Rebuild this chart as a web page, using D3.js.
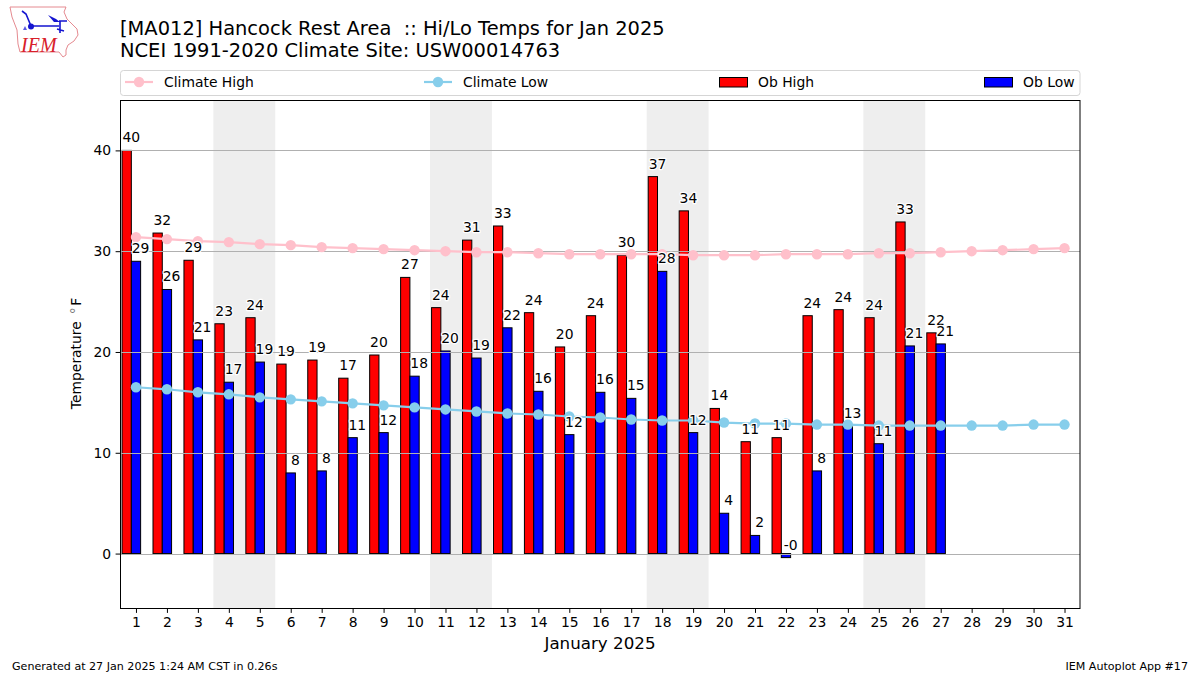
<!DOCTYPE html>
<html><head><meta charset="utf-8">
<script src="https://cdn.jsdelivr.net/npm/d3@7"></script>
<style>
html,body{margin:0;padding:0;background:#fff}
svg{display:block}
text{font-family:"DejaVu Sans",sans-serif;fill:#000}
</style></head><body><svg id="c" width="1200" height="675"></svg>
<script>
const days=d3.range(1,32);
const obHigh=[40,31.8,29.1,22.8,23.4,18.8,19.2,17.4,19.7,27.4,24.4,31.1,32.5,23.9,20.5,23.6,29.6,37.4,34,14.4,11.1,11.5,23.6,24.2,23.4,32.9,21.9];
const obLow=[29,26.2,21.2,17,19,8,8.2,11.5,12,17.6,20.1,19.4,22.4,16.1,11.8,16,15.4,28,12,4,1.8,-0.4,8.2,12.7,10.9,20.6,20.8];
const highLabels=["40","32","29","23","24","19","19","17","20","27","24","31","33","24","20","24","30","37","34","14","11","11","24","24","24","33","22"];
const lowLabels=["29","26","21","17","19","8","8","11","12","18","20","19","22","16","12","16","15","28","12","4","2","-0","8","13","11","21","21"];
const climateHigh=[31.4,31.2,31.0,30.9,30.7,30.6,30.4,30.3,30.2,30.1,30.0,29.9,29.9,29.8,29.7,29.7,29.7,29.7,29.6,29.6,29.6,29.7,29.7,29.7,29.8,29.8,29.9,30.0,30.1,30.2,30.3];
const climateLow=[16.5,16.3,16.0,15.8,15.5,15.3,15.1,14.9,14.7,14.5,14.3,14.1,13.9,13.8,13.6,13.5,13.3,13.2,13.2,13.0,12.9,12.9,12.8,12.8,12.7,12.7,12.7,12.7,12.7,12.8,12.8];
const weekends=[[3.5,5.5],[10.5,12.5],[17.5,19.5],[24.5,26.5]];
const yTicks=[0,10,20,30,40];
const titleLines=["[MA012] Hancock Rest Area  :: Hi/Lo Temps for Jan 2025","NCEI 1991-2020 Climate Site: USW00014763"];

const svg=d3.select("#c");
const L=120.5,R=1080,T=100,B=608;
const x=d3.scaleLinear().domain([0.5,31.5]).range([L,R]);
const y=d3.scaleLinear().domain([-5.4,45]).range([B,T]);
const barW=0.3;

svg.append("g").selectAll("rect").data(weekends).join("rect")
 .attr("x",d=>x(d[0])).attr("width",d=>x(d[1])-x(d[0]))
 .attr("y",T).attr("height",B-T).attr("fill","#eeeeee");

function bars(vals,color,off){
 svg.append("g").selectAll("rect").data(vals).join("rect")
  .attr("x",(d,i)=>x(i+1+off))
  .attr("width",x(barW)-x(0))
  .attr("y",d=>y(Math.max(d,0)))
  .attr("height",d=>Math.abs(y(d)-y(0)))
  .attr("fill",color).attr("stroke","#000").attr("stroke-width",1);
}
bars(obHigh,"#ff0000",-0.45);
bars(obLow,"#0000ff",-0.15);

svg.append("g").selectAll("line").data(yTicks).join("line")
 .attr("x1",L).attr("x2",R).attr("y1",d=>Math.round(y(d))+.5).attr("y2",d=>Math.round(y(d))+.5)
 .attr("stroke","#b0b0b0").attr("stroke-width",1);

function climate(vals,color){
 const line=d3.line().x((d,i)=>x(i+1)).y(d=>y(d));
 svg.append("path").attr("d",line(vals)).attr("fill","none").attr("stroke",color).attr("stroke-width",2.2);
 svg.append("g").selectAll("circle").data(vals).join("circle")
  .attr("cx",(d,i)=>x(i+1)).attr("cy",d=>y(d)).attr("r",5.2).attr("fill",color);
}
climate(climateHigh,"#ffc0cb");
climate(climateLow,"#87ceeb");

function labels(vals,texts,off){
 svg.append("g").selectAll("text").data(vals).join("text")
  .attr("x",(d,i)=>x(i+1+off))
  .attr("y",d=>y(d)-8)
  .attr("text-anchor","middle").attr("font-size",13.9)
  .attr("stroke","#fff").attr("stroke-width",2.5).attr("paint-order","stroke")
  .style("stroke-linejoin","round")
  .text((d,i)=>texts[i]);
}
labels(obHigh,highLabels,-0.15);
labels(obLow,lowLabels,0.15);

const xAxis=d3.axisBottom(x).tickValues(days).tickFormat(d3.format("d")).tickSize(4.9).tickPadding(4.5);
const yAxis=d3.axisLeft(y).tickValues(yTicks).tickFormat(d3.format("d")).tickSize(4.9).tickPadding(4.5);
const gx=svg.append("g").attr("transform",`translate(0,${B})`).call(xAxis);
const gy=svg.append("g").attr("transform",`translate(${L},0)`).call(yAxis);
[gx,gy].forEach(g=>{g.select(".domain").remove();g.selectAll("text").attr("font-size",13.9).style("font-family",'"DejaVu Sans",sans-serif');g.selectAll("line").attr("stroke","#000");});
svg.append("rect").attr("x",L).attr("y",T+.5).attr("width",R-L).attr("height",B-T).attr("fill","none").attr("stroke","#000").attr("stroke-width",1);

svg.append("text").attr("x",600).attr("y",649).attr("text-anchor","middle").attr("font-size",16.7).text("January 2025");
const yl=svg.append("text").attr("transform","translate(81,353.5) rotate(-90)").attr("text-anchor","middle").attr("font-size",13.9);
yl.append("tspan").text("Temperature\u2002");
yl.append("tspan").attr("fill","#888").style("fill","#777").text("\u00B0");
yl.append("tspan").attr("dx",1.5).text("F");

svg.selectAll("text.t").data(titleLines).join("text").attr("class","t")
 .attr("x",120).attr("y",(d,i)=>35+i*22).attr("font-size",19.44).attr("xml:space","preserve").text(d=>d);

svg.append("text").attr("x",12).attr("y",670).attr("font-size",11.1).text("Generated at 27 Jan 2025 1:24 AM CST in 0.26s");
svg.append("text").attr("x",1188).attr("y",670).attr("text-anchor","end").attr("font-size",11.1).text("IEM Autoplot App #17");

svg.append("rect").attr("x",120.5).attr("y",70.5).attr("width",959.5).attr("height",25).attr("rx",3).attr("fill","#fff").attr("stroke","#d5d5d5");
const legendItems=[["Climate High","#ffc0cb","line",125],["Climate Low","#87ceeb","line",424],["Ob High","#ff0000","bar",719],["Ob Low","#0000ff","bar",984]];
legendItems.forEach(([name,c,k,lx])=>{
 const g=svg.append("g");
 if(k==="line"){
  g.append("line").attr("x1",lx).attr("x2",lx+28).attr("y1",82).attr("y2",82).attr("stroke",c).attr("stroke-width",2.2);
  g.append("circle").attr("cx",lx+14).attr("cy",82).attr("r",5.2).attr("fill",c);
 } else {
  g.append("rect").attr("x",lx+.5).attr("y",77.5).attr("width",28).attr("height",9.5).attr("fill",c).attr("stroke","#000");
 }
 g.append("text").attr("x",lx+39).attr("y",86.5).attr("font-size",13.9).text(name);
});

const logo=svg.append("g");
logo.append("path").attr("d","M10,7 L66,7 L64,12 L67,19 L77,29 L78,35 L74,41 L68,45 L66,50 L66,55 L63,57 L59,52 L20,52 L18,44 L17,30 L12,17 Z")
 .attr("fill","none").attr("stroke","#e58a90").attr("stroke-width",1);
logo.append("path").attr("d","M31,26 H59 M59,21 H67 M60,21 L60,33 M57,29 L64,31 M22,11 L26,14 L31,26")
 .attr("fill","none").attr("stroke","#1515d0").attr("stroke-width",1.6);
logo.append("path").attr("d","M48,15 L56,19 L60,22 L54,22 Z").attr("fill","#1515d0");
logo.append("circle").attr("cx",31).attr("cy",26.5).attr("r",3).attr("fill","#1515d0");
logo.append("path").attr("d","M23,30 L25,26 L27,30 Z").attr("fill","#5a5ae0");
logo.append("text").attr("x",21).attr("y",52).attr("font-size",20).attr("font-style","italic")
 .style("font-family",'"Liberation Serif",serif').style("fill","#d8202a").text("IEM");
</script></body></html>
